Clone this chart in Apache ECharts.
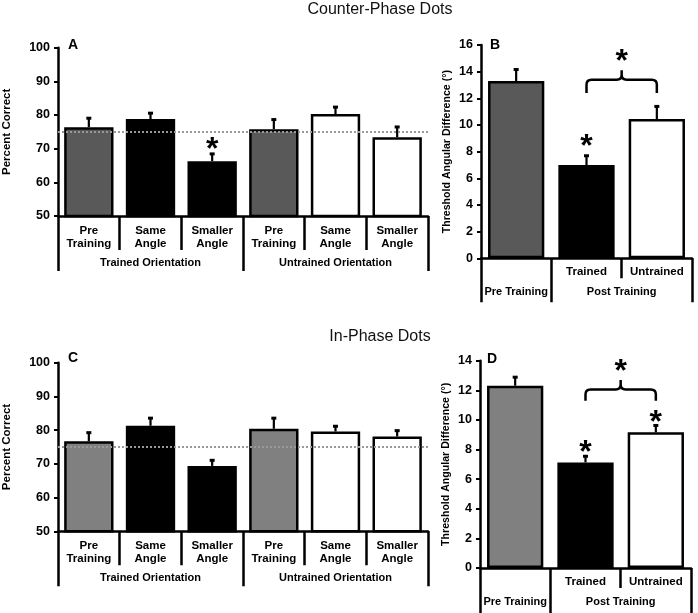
<!DOCTYPE html>
<html>
<head>
<meta charset="utf-8">
<script src="https://cdn.jsdelivr.net/npm/echarts@6/dist/echarts.min.js"></script>
<style>html,body{margin:0;padding:0;background:#fff}#c{width:698px;height:613px}</style>
</head>
<body>
<div id="c"></div>
<script>
// ---- Data ----
const catsA = ["Pre\nTraining","Same\nAngle","Smaller\nAngle","Pre\nTraining","Same\nAngle","Smaller\nAngle"];
const valsA = [76.4, 78.8, 66.3, 75.8, 80.3, 73.4];
const errA  = [79.2, 80.7, 68.6, 78.8, 82.5, 76.6];
const colorsA = ['#595959','#000000','#000000','#595959','#ffffff','#ffffff'];
const starsA = [[2, 72]];

const catsC = catsA;
const valsC = [76.7, 81.3, 69.4, 80.4, 79.6, 78.1];
const errC  = [79.4, 83.7, 71.2, 83.7, 81.3, 80.0];
const colorsC = ['#808080','#000000','#000000','#808080','#ffffff','#ffffff'];
const starsC = [];

const groupsAC = ["Trained Orientation","Untrained Orientation"];
const groupSpansAC = [[0,3],[3,6]];
const chanceLevel = 75;

const catsB = ["", "Trained", "Untrained"];
const valsB = [13.3, 7.0, 10.45];
const errB  = [14.2, 7.73, 11.43];
const colorsB = ['#595959','#000000','#ffffff'];
const starsB = [[1, 8.9]];
const bracketB = [1, 2, 13.4, 12.4, 14.1, 15.3]; // from, to, level, endLevel, peakLevel, starLevel

const catsD = catsB;
const valsD = [12.31, 7.13, 9.16];
const errD  = [12.92, 7.58, 9.66];
const colorsD = ['#808080','#000000','#ffffff'];
const starsD = [[1, 8.3],[2, 10.33]];
const bracketD = [1, 2, 12.06, 11.3, 12.7, 13.75];

const groupsBD = ["Pre Training","Post Training"];
const groupSpansBD = [[0,1],[1,3]];

// ---- Build ----
const FONT = 'Liberation Sans, Arial, sans-serif';
const chart = echarts.init(document.getElementById('c'));

const grids = [
  {left:58, top:47.7, width:370, height:168.3},
  {left:481, top:45, width:211, height:213.3},
  {left:58, top:362.7, width:370, height:168.6},
  {left:480, top:360.7, width:211, height:207.3}
];

const panels = [
  {cats:catsA, vals:valsA, err:errA, colors:colorsA, stars:starsA, bracket:null, groups:groupsAC, spans:groupSpansAC, ymin:50, ymax:100, yint:10, yname:'Percent Correct', nameGap:45, nameSize:11.5, chance:true, shortTick:34, longTick:55, lblMargin:8, grpMargin:41},
  {cats:catsB, vals:valsB, err:errB, colors:colorsB, stars:starsB, bracket:bracketB, groups:groupsBD, spans:groupSpansBD, ymin:0, ymax:16, yint:2, yname:'Threshold Angular Difference (°)', nameGap:28, nameSize:10.6, chance:false, shortTick:20, longTick:44, lblMargin:7, grpMargin:28},
  {cats:catsC, vals:valsC, err:errC, colors:colorsC, stars:starsC, bracket:null, groups:groupsAC, spans:groupSpansAC, ymin:50, ymax:100, yint:10, yname:'Percent Correct', nameGap:45, nameSize:11.5, chance:true, shortTick:34, longTick:55, lblMargin:8, grpMargin:41},
  {cats:catsD, vals:valsD, err:errD, colors:colorsD, stars:starsD, bracket:bracketD, groups:groupsBD, spans:groupSpansBD, ymin:0, ymax:14, yint:2, yname:'Threshold Angular Difference (°)', nameGap:28, nameSize:10.6, chance:false, shortTick:20, longTick:48, lblMargin:7, grpMargin:28}
];

const xAxes = [], yAxes = [], series = [];
const blk = {color:'#000', width:2.5};

panels.forEach((p, gi) => {
  xAxes.push({
    type:'category', gridIndex:gi, data:p.cats, boundaryGap:true,
    axisLine:{show:true, lineStyle:blk},
    axisTick:{show:true, length:p.shortTick, lineStyle:blk, alignWithLabel:false},
    axisLabel:{interval:0, color:'#000', fontFamily:FONT, fontWeight:'bold', fontSize:11.5, lineHeight:13, margin:p.lblMargin},
    splitLine:{show:false}
  });
  const n = p.cats.length;
  const tickVals = [0].concat(p.spans.map(s => s[1]));
  const lblVals = p.spans.map(s => (s[0] + s[1]) / 2);
  xAxes.push({
    type:'value', gridIndex:gi, min:0, max:n, position:'bottom',
    axisLine:{show:false},
    axisTick:{show:true, length:p.longTick, lineStyle:blk, customValues:tickVals},
    axisLabel:{show:true, color:'#000', fontFamily:FONT, fontWeight:'bold', fontSize:11, margin:p.grpMargin,
      customValues:lblVals,
      formatter:(v) => { const i = lblVals.findIndex(x => Math.abs(x - v) < 1e-6); return i >= 0 ? p.groups[i] : ''; }},
    splitLine:{show:false}
  });
  yAxes.push({
    type:'value', gridIndex:gi, min:p.ymin, max:p.ymax, interval:p.yint,
    name:p.yname, nameLocation:'middle', nameGap:p.nameGap, nameRotate:90,
    nameTextStyle:{color:'#000', fontFamily:FONT, fontWeight:'bold', fontSize:p.nameSize},
    axisLine:{show:true, lineStyle:blk},
    axisTick:{show:true, length:4, lineStyle:{color:'#000', width:2}},
    axisLabel:{color:'#000', fontFamily:FONT, fontWeight:'bold', fontSize:12.5, margin:8},
    splitLine:{show:false}
  });
  const xi = gi * 2;
  series.push({
    type:'bar', xAxisIndex:xi, yAxisIndex:gi, barCategoryGap:'20%', z:2,
    data:p.vals.map((v, i) => ({value:v, itemStyle:{color:p.colors[i], borderColor:'#000', borderWidth:2.5}})),
    silent:true
  });
  series.push({
    type:'custom', xAxisIndex:xi, yAxisIndex:gi, z:3, silent:true,
    data:p.vals.map((v, i) => [i, v, p.err[i]]),
    renderItem:(params, api) => {
      const a = api.coord([api.value(0), api.value(1)]);
      const b = api.coord([api.value(0), api.value(2)]);
      return {type:'group', children:[
        {type:'line', shape:{x1:a[0], y1:a[1], x2:b[0], y2:b[1]}, style:{stroke:'#000', lineWidth:2.2}},
        {type:'rect', shape:{x:b[0]-2.5, y:b[1]-1, width:5, height:3}, style:{fill:'#000'}}
      ]};
    }
  });
  if (p.stars.length) {
    series.push({
      type:'custom', xAxisIndex:xi, yAxisIndex:gi, z:4, silent:true,
      data:p.stars,
      renderItem:(params, api) => {
        const c = api.coord([api.value(0), api.value(1)]);
        return {type:'text', x:c[0], y:c[1] + 8, style:{text:'*', font:'bold 32px ' + FONT, fill:'#000', align:'center', verticalAlign:'middle'}};
      }
    });
  }
  if (p.bracket) {
    series.push({
      type:'custom', xAxisIndex:xi, yAxisIndex:gi, z:4, silent:true,
      data:[p.bracket],
      renderItem:(params, api) => {
        const L = api.coord([api.value(0), api.value(2)]);
        const R = api.coord([api.value(1), api.value(2)]);
        const yB = api.coord([api.value(0), api.value(3)])[1];
        const yP = api.coord([api.value(0), api.value(4)])[1];
        const yS = api.coord([api.value(0), api.value(5)])[1];
        const xL = L[0], xR = R[0], yH = L[1], xm = (xL + xR) / 2, r = 5;
        const d = `M${xL} ${yB} L${xL} ${yH + r} Q${xL} ${yH} ${xL + r} ${yH} L${xm - r} ${yH} Q${xm} ${yH} ${xm} ${yH - r} L${xm} ${yP} ` +
                  `M${xm} ${yH - r} Q${xm} ${yH} ${xm + r} ${yH} L${xR - r} ${yH} Q${xR} ${yH} ${xR} ${yH + r} L${xR} ${yB}`;
        return {type:'group', children:[
          {type:'path', shape:{pathData:d}, style:{stroke:'#000', lineWidth:2.5, fill:null}},
          {type:'text', x:xm, y:yS + 8, style:{text:'*', font:'bold 32px ' + FONT, fill:'#000', align:'center', verticalAlign:'middle'}}
        ]};
      }
    });
  }
  if (p.chance) {
    series.push({
      type:'line', xAxisIndex:xi, yAxisIndex:gi, data:[], z:5, silent:true,
      markLine:{silent:true, symbol:'none', label:{show:false}, animation:false,
        lineStyle:{color:'#999', type:[2,2], width:2}, data:[{yAxis:chanceLevel}]}
    });
  }
});

const titleStyle = (t, x, y) => ({type:'text', x, y, style:{text:t, font:'16px ' + FONT, fill:'#111', align:'center', verticalAlign:'middle'}});
const letter = (t, x, y) => ({type:'text', x, y, style:{text:t, font:'bold 14px ' + FONT, fill:'#000', align:'left', verticalAlign:'middle'}});

chart.setOption({
  animation:false,
  backgroundColor:'#fff',
  grid:grids.map(g => Object.assign({containLabel:false, outerBoundsMode:'none'}, g)),
  xAxis:xAxes, yAxis:yAxes, series:series,
  graphic:[
    titleStyle('Counter-Phase Dots', 380, 10),
    titleStyle('In-Phase Dots', 380, 337),
    letter('A', 68, 45), letter('B', 490, 45), letter('C', 68, 358), letter('D', 487, 359)
  ]
});
</script>
</body>
</html>
